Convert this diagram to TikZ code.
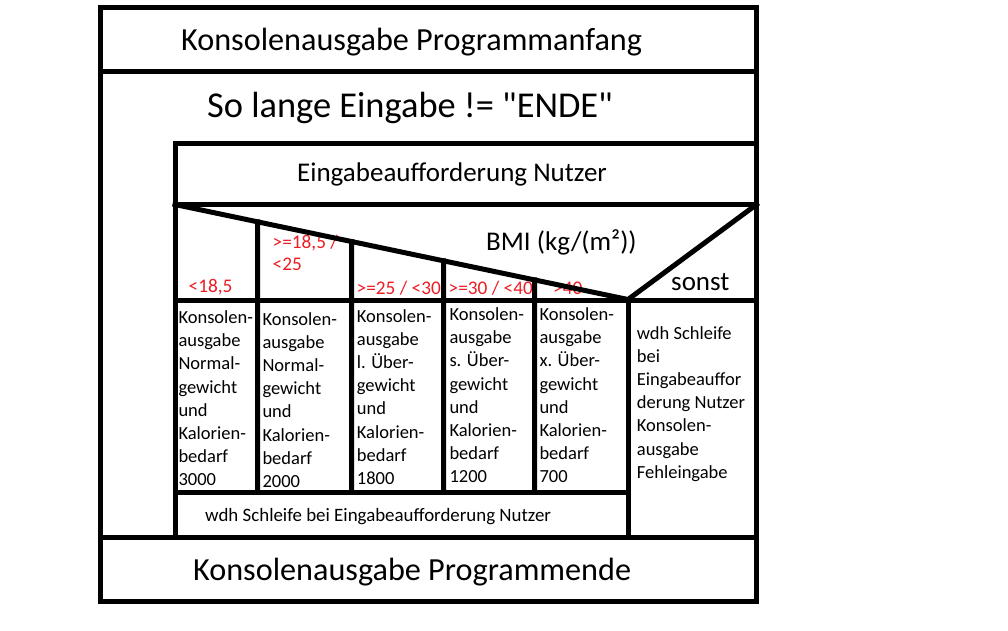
\documentclass[tikz,border=0pt]{standalone}
\usepackage{fontspec}
\setmainfont{Carlito}[Ligatures=TeXOff]
\usetikzlibrary{calc}
\definecolor{caseRed}{RGB}{237,28,36}
\begin{document}
\begin{tikzpicture}[x=1pt,y=-1pt,
  frame/.style={line width=5pt,line join=miter,line cap=rect},
  bigtext/.style={anchor=base west,inner sep=0pt,font=\fontsize{32.2}{38}\selectfont},
  looptext/.style={anchor=base west,inner sep=0pt,font=\fontsize{36.4}{42}\selectfont},
  midtext/.style={anchor=base west,inner sep=0pt,font=\fontsize{27}{32}\selectfont},
  smalltext/.style={anchor=base west,inner sep=0pt,font=\fontsize{18.9}{22}\selectfont},
  celltext/.style={anchor=north west,inner sep=0pt,align=left,font=\fontsize{18.5}{23.2}\selectfont},
  condtext/.style={anchor=base west,inner sep=0pt,align=left,text=caseRed,font=\fontsize{19.3}{21.7}\selectfont}]
\useasboundingbox (0,0) rectangle (1008,630);

% key corners of the structogram
\coordinate (oTL) at (100,7.5);
\coordinate (oBR) at (756.5,601.5);
\coordinate (dL) at (175,204.5);
\coordinate (dM) at (628,299.5);
\coordinate (dR) at (756.5,204.5);

% texts of the blocks
\node[bigtext] (start) at (181,50) {Konsolenausgabe Programmanfang};
\node[looptext] (loop) at (207,117) {So lange Eingabe != "ENDE"};
\node[midtext] (input) at (297,181) {Eingabeaufforderung Nutzer};
\node[midtext] (bmi) at (486,250) {BMI (kg/(m²))};
\node[midtext] (other) at (671,290) {sonst};
\node[smalltext] (repeat) at (205,521) {wdh Schleife bei Eingabeaufforderung Nutzer};
\node[bigtext] (finish) at (193,580) {Konsolenausgabe Programmende};

% case conditions
\node[condtext] (c1) at (188.5,292) {<18,5};
\node[condtext] (c2) at (272.5,270) {>=18,5 /\\<25};
\node[condtext] (c3) at (356.5,294) {>=25 / <30};
\node[condtext] (c4) at (448.5,294) {>=30 / <40};
\node[condtext] (c5) at (553,294) {>40};

% case bodies
\node[celltext] (b1) at (178.3,310.5) {Konsolen-\\ausgabe\\Normal-\\gewicht\\und\\Kalorien-\\bedarf\\3000};
\node[celltext] (b2) at (262.3,312) {Konsolen-\\ausgabe\\Normal-\\gewicht\\und\\Kalorien-\\bedarf\\2000};
\node[celltext] (b3) at (356.7,309) {Konsolen-\\ausgabe\\l. Über-\\gewicht\\und\\Kalorien-\\bedarf\\1800};
\node[celltext] (b4) at (449.3,307.5) {Konsolen-\\ausgabe\\s. Über-\\gewicht\\und\\Kalorien-\\bedarf\\1200};
\node[celltext] (b5) at (539.3,307.5) {Konsolen-\\ausgabe\\x. Über-\\gewicht\\und\\Kalorien-\\bedarf\\700};
\node[celltext] (b6) at (636.7,326) {wdh Schleife\\bei\\Eingabeauffor\\derung Nutzer\\Konsolen-\\ausgabe\\Fehleingabe};

% outer frame and block separators
\draw[frame] (oTL) rectangle (oBR);
\draw[frame] (100,71.5) -- (756.5,71.5);
\draw[frame] (100,537.5) -- (756.5,537.5);

% loop body
\draw[frame] (175,537.5) -- (175,143.5) -- (756.5,143.5);
\draw[frame] (175,204.5) -- (756.5,204.5);
\draw[frame] (175,300.5) -- (756.5,300.5);

% case head
\draw[frame] (dL) -- (dM) -- (dR);
\foreach \cx in {257.5,351.5,443.5,534.5}
  \draw[frame] ($(dL)!{(\cx-175)/453}!(dM)$) -- (\cx,492);
\draw[frame] (628,299.5) -- (628,537.5);
\draw[frame] (175,492) -- (628,492);
\end{tikzpicture}
\end{document}
